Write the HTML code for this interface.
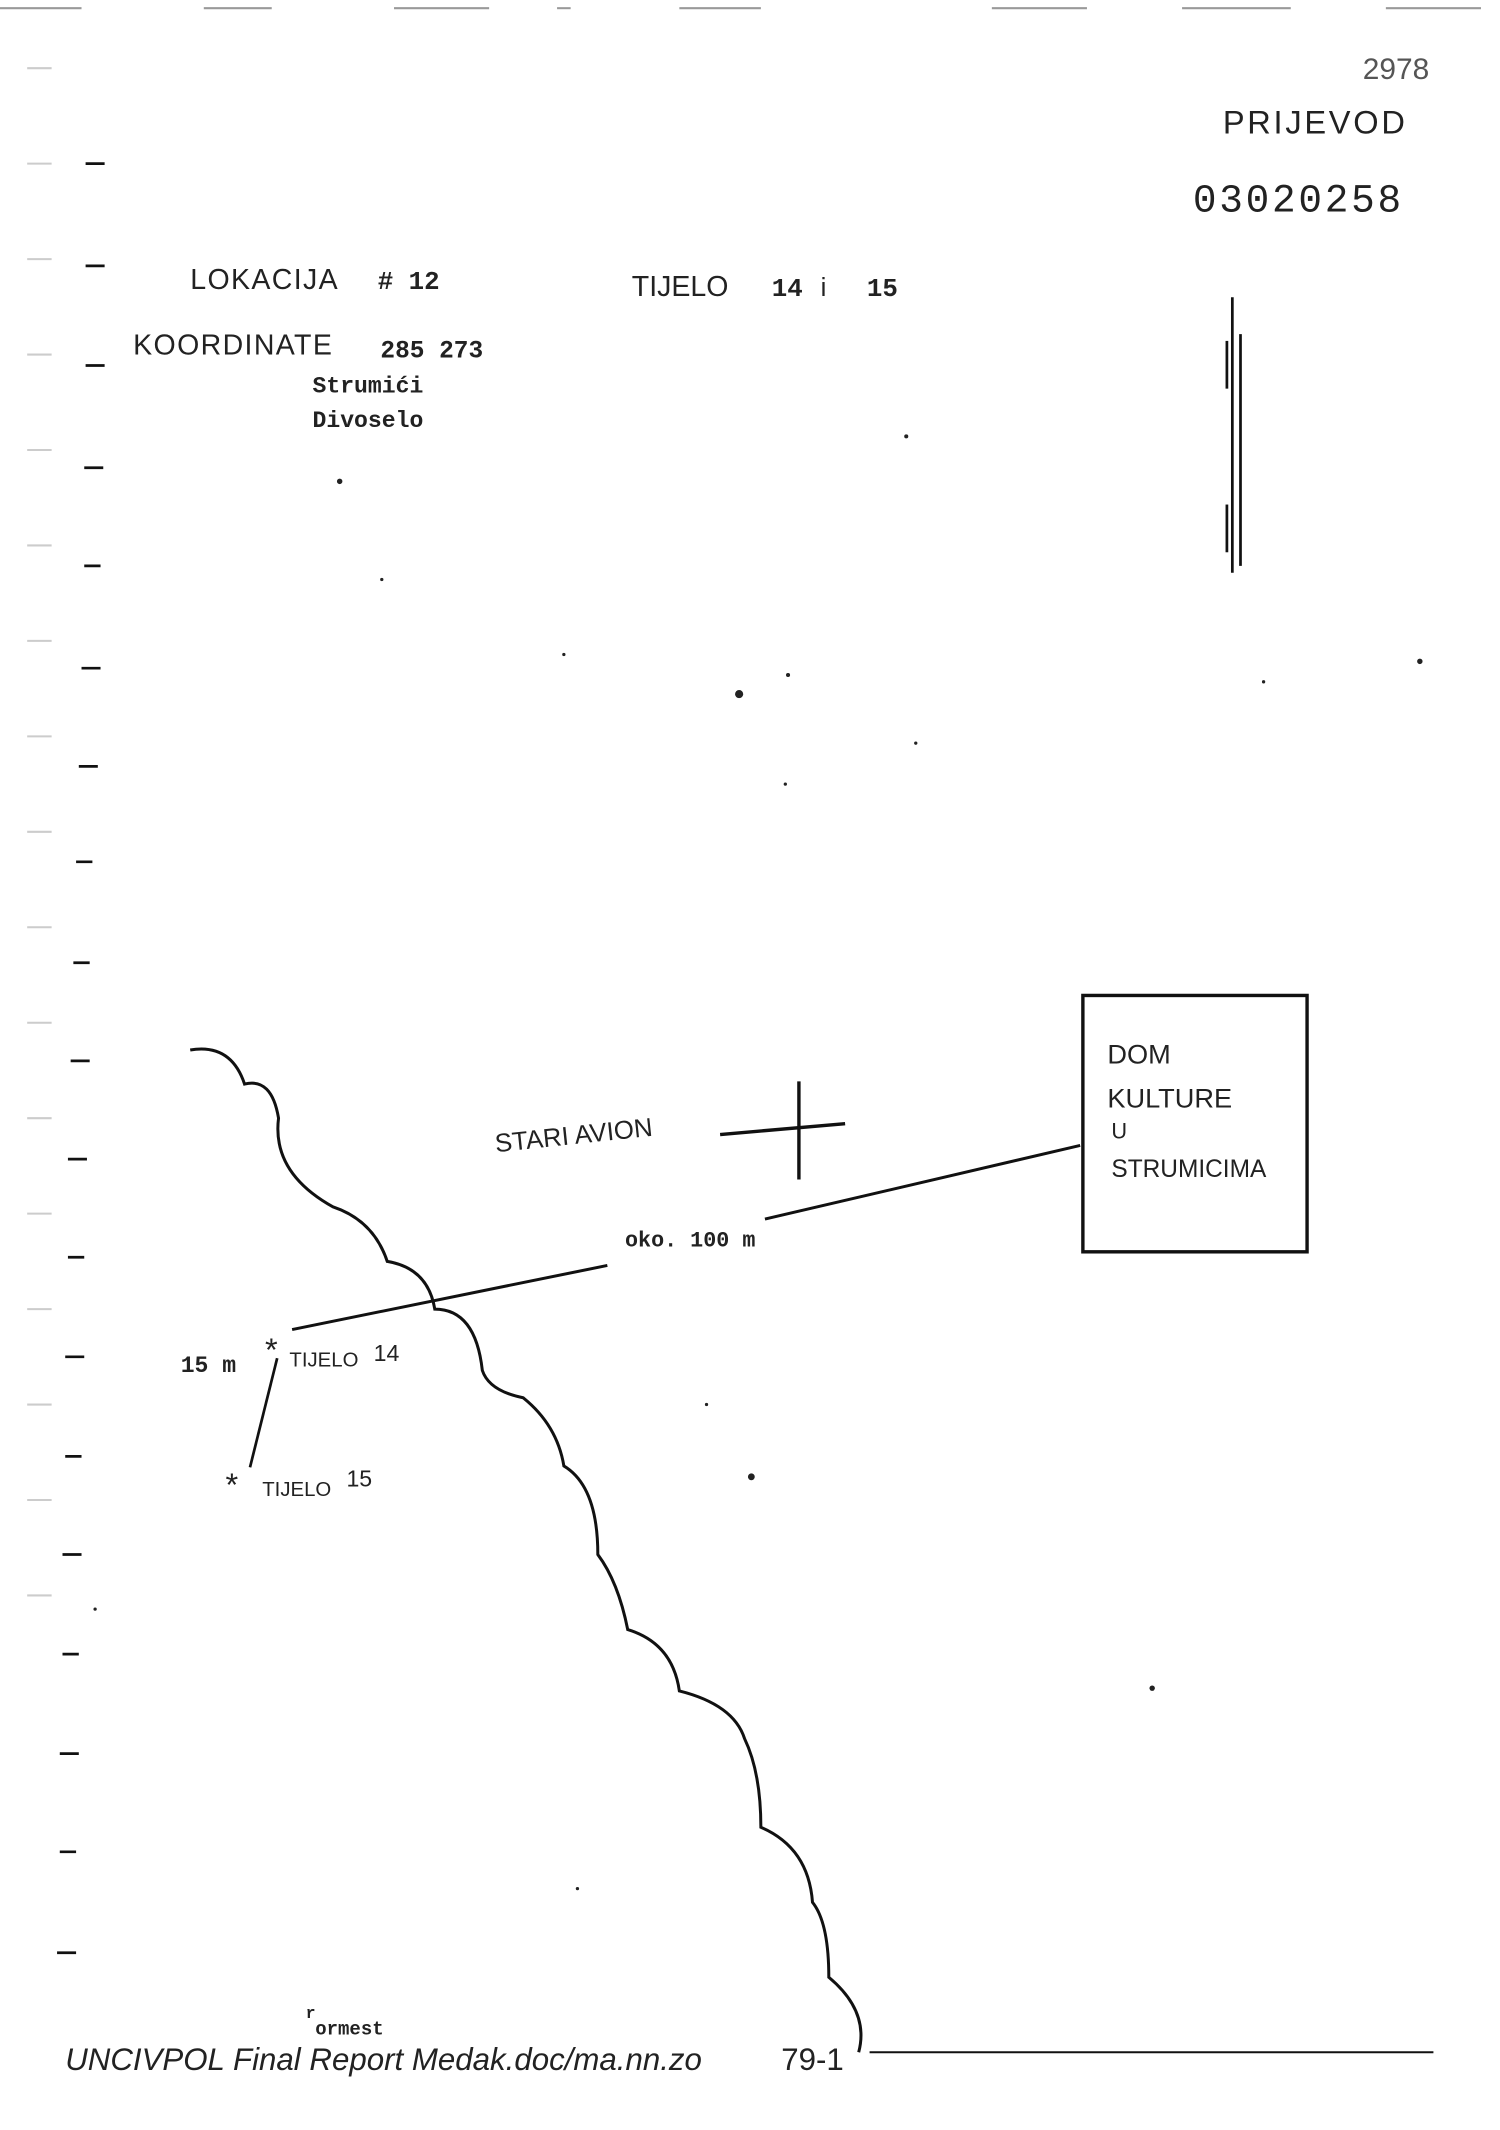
<!DOCTYPE html>
<html><head><meta charset="utf-8"><style>
html,body{margin:0;padding:0;background:#fff;}
svg{display:block;}
.hw{font-family:"Liberation Sans",sans-serif;fill:#222;}
.tw{font-family:"Liberation Mono",monospace;font-weight:bold;fill:#222;}
</style></head><body>
<svg width="1500" height="2130" viewBox="0 0 1104 1562" preserveAspectRatio="none" xmlns="http://www.w3.org/2000/svg">
<rect width="1104" height="1562" fill="#fff"/>
<!-- top edge marks -->
<g stroke="#999" stroke-width="1.5">
<line x1="0" y1="6" x2="60" y2="6"/><line x1="150" y1="6" x2="200" y2="6"/><line x1="290" y1="6" x2="360" y2="6"/>
<line x1="410" y1="6" x2="420" y2="6"/><line x1="500" y1="6" x2="560" y2="6"/><line x1="730" y1="6" x2="800" y2="6"/>
<line x1="870" y1="6" x2="950" y2="6"/><line x1="1020" y1="6" x2="1090" y2="6"/>
</g>
<!-- left margin holes -->
<g stroke="#ccc" stroke-width="1.5">
<line x1="20" y1="50" x2="38" y2="50"/><line x1="20" y1="120" x2="38" y2="120"/><line x1="20" y1="190" x2="38" y2="190"/>
<line x1="20" y1="260" x2="38" y2="260"/><line x1="20" y1="330" x2="38" y2="330"/><line x1="20" y1="400" x2="38" y2="400"/>
<line x1="20" y1="470" x2="38" y2="470"/><line x1="20" y1="540" x2="38" y2="540"/><line x1="20" y1="610" x2="38" y2="610"/>
<line x1="20" y1="680" x2="38" y2="680"/><line x1="20" y1="750" x2="38" y2="750"/><line x1="20" y1="820" x2="38" y2="820"/>
<line x1="20" y1="890" x2="38" y2="890"/><line x1="20" y1="960" x2="38" y2="960"/><line x1="20" y1="1030" x2="38" y2="1030"/>
<line x1="20" y1="1100" x2="38" y2="1100"/><line x1="20" y1="1170" x2="38" y2="1170"/>
</g>
<g stroke="#111" stroke-width="2">
<line x1="63" y1="120" x2="77" y2="120"/><line x1="63" y1="195" x2="77" y2="195"/><line x1="63" y1="268" x2="77" y2="268"/>
<line x1="62" y1="343" x2="76" y2="343"/><line x1="62" y1="415" x2="74" y2="415"/><line x1="60" y1="490" x2="74" y2="490"/>
<line x1="58" y1="562" x2="72" y2="562"/><line x1="56" y1="632" x2="68" y2="632"/><line x1="54" y1="706" x2="66" y2="706"/>
<line x1="52" y1="778" x2="66" y2="778"/><line x1="50" y1="850" x2="64" y2="850"/><line x1="50" y1="922" x2="62" y2="922"/>
<line x1="48" y1="995" x2="62" y2="995"/><line x1="48" y1="1068" x2="60" y2="1068"/><line x1="46" y1="1140" x2="60" y2="1140"/>
<line x1="46" y1="1213" x2="58" y2="1213"/><line x1="44" y1="1286" x2="58" y2="1286"/><line x1="44" y1="1358" x2="56" y2="1358"/>
<line x1="42" y1="1432" x2="56" y2="1432"/>
</g>
<!-- header text -->
<text x="1003" y="58" class="hw" font-size="22" fill="#555" style="fill:#555">2978</text>
<text x="900" y="98" class="hw" font-size="24" letter-spacing="2">PRIJEVOD</text>
<text x="878" y="155" font-family="Liberation Mono,monospace" font-size="29" fill="#222" letter-spacing="2">03020258</text>
<text x="140" y="212" class="hw" font-size="21" letter-spacing="1">LOKACIJA</text>
<text x="278" y="212" class="tw" font-size="19"># 12</text>
<text x="465" y="217" class="hw" font-size="21">TIJELO</text>
<text x="568" y="217" class="tw" font-size="19">14</text>
<text x="604" y="217" class="hw" font-size="19">i</text>
<text x="638" y="217" class="tw" font-size="19">15</text>
<text x="98" y="260" class="hw" font-size="21" letter-spacing="1">KOORDINATE</text>
<text x="280" y="262" class="tw" font-size="18">285 273</text>
<text x="230" y="288" class="tw" font-size="17">Strumići</text>
<text x="230" y="313" class="tw" font-size="17">Divoselo</text>
<!-- vertical double lines -->
<g stroke="#111" stroke-width="2">
<line x1="907" y1="218" x2="907" y2="420"/><line x1="913" y1="245" x2="913" y2="415"/>
<line x1="903" y1="250" x2="903" y2="285"/><line x1="903" y1="370" x2="903" y2="405"/>
</g>
<!-- box -->
<rect x="797" y="730" width="165" height="188" fill="none" stroke="#111" stroke-width="2.5"/>
<text x="815" y="780" class="hw" font-size="20">DOM</text>
<text x="815" y="812" class="hw" font-size="20">KULTURE</text>
<text x="818" y="835" class="hw" font-size="16">U</text>
<text x="818" y="863" class="hw" font-size="18">STRUMICIMA</text>
<!-- stari avion -->
<text x="365" y="845" class="hw" font-size="19" transform="rotate(-6 365 845)">STARI AVION</text>
<g stroke="#111" stroke-width="2.5">
<line x1="530" y1="832" x2="622" y2="824"/><line x1="588" y1="793" x2="588" y2="865"/>
</g>
<!-- lines -->
<g stroke="#111" stroke-width="2.2">
<line x1="215" y1="975" x2="447" y2="928"/><line x1="563" y1="894" x2="795" y2="840"/>
</g>
<text x="460" y="914" class="tw" font-size="16">oko. 100 m</text>
<!-- wavy line -->
<path d="M140 770 Q170 765 180 795 Q200 790 205 820 Q200 860 245 885 Q275 895 285 925 Q315 930 320 960 Q350 960 355 1005 Q360 1020 385 1025 Q410 1045 415 1075 Q440 1090 440 1140 Q455 1160 462 1195 Q495 1205 500 1240 Q540 1250 548 1275 Q560 1300 560 1340 Q595 1355 598 1395 Q610 1410 610 1450 Q640 1475 632 1505" fill="none" stroke="#111" stroke-width="2.2"/>
<!-- bodies -->
<text x="133" y="1006" class="tw" font-size="17">15 m</text>
<text x="195" y="998" class="hw" font-size="24">*</text>
<text x="213" y="1002" class="hw" font-size="15">TIJELO</text>
<text x="275" y="998" class="hw" font-size="17">14</text>
<line x1="204" y1="996" x2="184" y2="1076" stroke="#111" stroke-width="2"/>
<text x="166" y="1097" class="hw" font-size="24">*</text>
<text x="193" y="1097" class="hw" font-size="15">TIJELO</text>
<text x="255" y="1090" class="hw" font-size="17">15</text>
<!-- footer -->
<text x="225" y="1480" class="tw" font-size="12">r</text>
<text x="232" y="1492" class="tw" font-size="14">ormest</text>
<text x="48" y="1518" class="hw" font-size="23" font-style="italic">UNCIVPOL Final Report Medak.doc/ma.nn.zo</text>
<text x="575" y="1518" class="hw" font-size="23">79-1</text>
<line x1="640" y1="1505" x2="1055" y2="1505" stroke="#111" stroke-width="1.5"/>
<!-- specks -->
<g fill="#222">
<circle cx="544" cy="509" r="3"/><circle cx="553" cy="1083" r="2.5"/><circle cx="848" cy="1238" r="2"/>
<circle cx="250" cy="353" r="2"/><circle cx="667" cy="320" r="1.5"/><circle cx="580" cy="495" r="1.5"/>
<circle cx="415" cy="480" r="1.2"/><circle cx="674" cy="545" r="1.2"/><circle cx="578" cy="575" r="1.2"/>
<circle cx="281" cy="425" r="1.2"/><circle cx="1045" cy="485" r="2"/><circle cx="930" cy="500" r="1.2"/>
<circle cx="520" cy="1030" r="1.2"/><circle cx="425" cy="1385" r="1.2"/><circle cx="70" cy="1180" r="1.2"/>
</g>
</svg>
</body></html>
